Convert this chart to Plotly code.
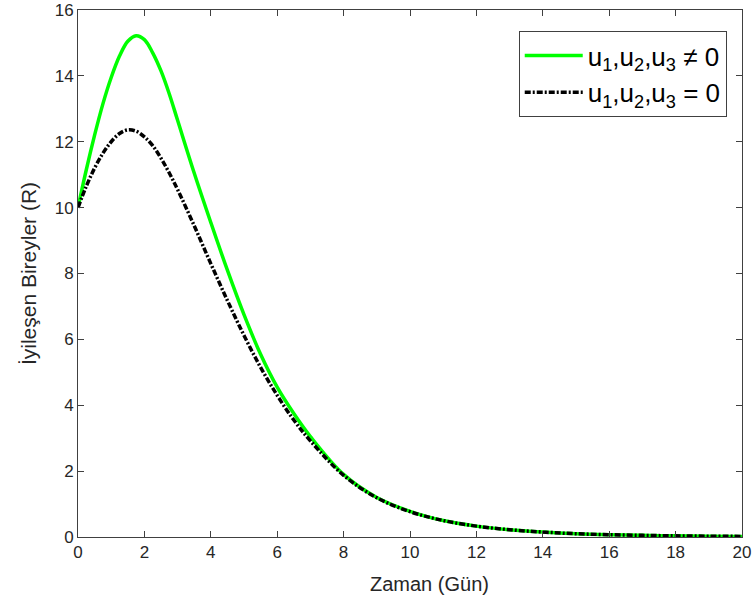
import plotly.graph_objects as go

# Time (days)
t = [0, 0.25, 0.5, 0.75, 1.0, 1.25, 1.5, 1.75, 2.0, 2.25, 2.5, 2.75, 3.0, 3.5, 4.0, 4.5,
     5.0, 5.5, 6.0, 6.5, 7.0, 8.0, 9.0, 10, 11, 12, 13, 14, 15, 16, 17, 18, 19, 20]

# R with controls (u1,u2,u3 != 0)
r_control = [10, 11.15, 12.2, 13.15, 13.95, 14.6, 15.05, 15.22, 15.1, 14.7, 14.15, 13.45,
             12.65, 11.05, 9.55, 8.1, 6.75, 5.55, 4.55, 3.75, 3.05, 1.9, 1.2, 0.78, 0.5,
             0.33, 0.22, 0.15, 0.1, 0.07, 0.05, 0.035, 0.025, 0.018]

# R without controls (u1,u2,u3 = 0)
r_nocontrol = [10, 10.65, 11.2, 11.65, 12.0, 12.25, 12.36, 12.32, 12.15, 11.88, 11.5, 11.05,
               10.55, 9.45, 8.3, 7.18, 6.12, 5.15, 4.3, 3.55, 2.92, 1.87, 1.19, 0.77, 0.5,
               0.33, 0.22, 0.15, 0.1, 0.07, 0.05, 0.035, 0.025, 0.018]

x_ticks = list(range(0, 21, 2))
y_ticks = list(range(0, 17, 2))
x_title = "Zaman (Gün)"
y_title = "İyileşen Bireyler (R)"

fig = go.Figure()
fig.add_trace(go.Scatter(
    x=t, y=r_control, mode="lines", line=dict(color="#00ff00", width=3.5, shape="spline"),
    name="u<sub>1</sub>,u<sub>2</sub>,u<sub>3</sub> ≠ 0"))
fig.add_trace(go.Scatter(
    x=t, y=r_nocontrol, mode="lines",
    line=dict(color="black", width=3.5, dash="6px,2px,2px,2px", shape="spline"),
    name="u<sub>1</sub>,u<sub>2</sub>,u<sub>3</sub> = 0"))

axis_common = dict(showline=True, linecolor="#404040", linewidth=1, mirror="allticks",
                   ticks="inside", ticklen=6, tickcolor="#404040", showgrid=False,
                   zeroline=False, automargin=False,
                   tickfont=dict(family="Liberation Sans", size=17, color="#262626"),
                   title_font=dict(family="Liberation Sans", size=21, color="#262626"))

fig.update_xaxes(range=[0, 20], tickvals=x_ticks, **axis_common)
fig.update_yaxes(range=[0, 16], tickvals=y_ticks, title_text=y_title,
                 title_standoff=12, **axis_common)

fig.add_annotation(text=x_title, xref="paper", yref="paper", x=0.53, y=-0.064,
                   xanchor="center", yanchor="top", showarrow=False,
                   font=dict(family="Liberation Sans", size=20, color="#262626"))

fig.update_layout(
    width=756, height=602,
    margin=dict(l=78, r=14, t=10, b=65),
    plot_bgcolor="white", paper_bgcolor="white",
    showlegend=True,
    legend=dict(x=0.977, y=0.96, xanchor="right", yanchor="top",
                bgcolor="white", bordercolor="#404040", borderwidth=1,
                font=dict(family="Liberation Sans", size=26, color="black"),
                itemwidth=58, tracegroupgap=0),
)

fig.write_html("out.html", config={"displayModeBar": False},
               post_script="document.body.style.margin='0';document.body.style.overflow='hidden';")
